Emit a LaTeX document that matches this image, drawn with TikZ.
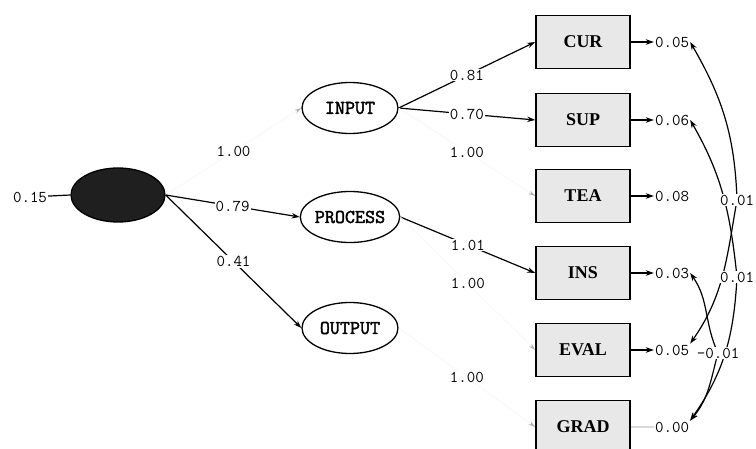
\documentclass[tikz,border=0pt]{standalone}
\usepackage{fontspec}
\newfontfamily\boxfont{Liberation Serif}
\newfontfamily\latfont[AutoFakeBold=2.2]{Latin Modern Mono}
\usetikzlibrary{shapes.geometric,arrows.meta}

\begin{document}
\begin{tikzpicture}[x=1pt,y=-1pt,
    lat/.style={ellipse, draw, line width=1.3pt, minimum width=96pt, minimum height=51pt,
        inner sep=0pt, font=\latfont\bfseries\fontsize{19.5}{19.5}\selectfont},
    obs/.style={rectangle, draw, line width=1.6pt, fill=black!9, minimum width=94pt,
        minimum height=53pt, font=\boxfont\bfseries\fontsize{18}{18}\selectfont},
    num/.style={fill=white, inner sep=1pt, font=\ttfamily\fontsize{16.5}{16.5}\selectfont},
    load/.style={line width=1.2pt, -{Stealth[length=8pt,width=5.5pt]}},
    fixload/.style={draw=black!3, line width=0.8pt, -{Stealth[length=7pt,width=4pt,color=black!30]}},
    cov/.style={line width=1.2pt, -{Stealth[length=8pt,width=5.5pt]}}]
    \useasboundingbox (0,0) rectangle (756,449);

    % latente Variablen
    \node[lat, fill=black!88, minimum width=94pt, minimum height=54pt] (eta) at (118,195) {};
    \node[lat] (input) at (350,108) {INPUT};
    \node[lat] (process) at (350,217) {PROCESS};
    \node[lat] (output) at (350,328) {OUTPUT};

    % Indikatoren
    \node[obs] (cur) at (583,42) {CUR};
    \node[obs] (sup) at (583,120) {SUP};
    \node[obs] (tea) at (583,196) {TEA};
    \node[obs] (ins) at (583,273) {INS};
    \node[obs] (eval) at (583,350) {EVAL};
    \node[obs] (grad) at (583,427) {GRAD};

    % Fehlervarianzen
    \node[num] (eeta) at (30,197) {0.15};
    \node[num] (ecur) at (672,42) {0.05};
    \node[num] (esup) at (672,120) {0.06};
    \node[num] (etea) at (672,196) {0.08};
    \node[num] (eins) at (672,273) {0.03};
    \node[num] (eeval) at (672,350) {0.05};
    \node[num] (egrad) at (672,427) {0.00};

    \draw[line width=1.2pt] (eeta) -- (eta.west);
    \draw[load] (cur) -- (ecur);
    \draw[load] (sup) -- (esup);
    \draw[load] (tea) -- (etea);
    \draw[load] (ins) -- (eins);
    \draw[load] (eval) -- (eeval);
    \draw[draw=black!15, line width=1pt] (grad) -- (egrad);

    % Ladungen 2. Ordnung
    \draw[fixload] (eta.east) -- node[num] {1.00} (input.west);
    \draw[load] (eta.east) -- node[num] {0.79} (process.west);
    \draw[load] (eta.east) -- node[num] {0.41} (output.west);

    % Ladungen 1. Ordnung
    \draw[load] (input.east) -- node[num] {0.81} (cur.west);
    \draw[load] (input.east) -- node[num] {0.70} (sup.west);
    \draw[fixload] (input.east) -- node[num] {1.00} (tea.west);
    \draw[load] (process.east) -- node[num] {1.01} (ins.west);
    \draw[fixload] (process.east) -- node[num] {1.00} (eval.west);
    \draw[fixload] (output.east) -- node[num] {1.00} (grad.west);

    % Fehlerkovarianzen
    \coordinate (cA) at (737,200);
    \coordinate (cB) at (737,277);
    \coordinate (cC) at (718,353);
    \draw[cov] (cA) to[out=92, in=-60] (ecur.east);
    \draw[cov] (cA) to[out=-100, in=55] (eeval.north east);
    \draw[cov] (cB) to[out=96, in=-60] (esup.east);
    \draw[cov] (cB) to[out=-93, in=55] (egrad.north east);
    \draw[cov] (cC) to[out=115, in=-55] (eins.east);
    \draw[cov] (cC) to[out=-105, in=50] (egrad.north east);
    \node[num] (covA) at (cA) {0.01};
    \node[num] (covB) at (cB) {0.01};
    \node[num] (covC) at (cC) {-0.01};
\end{tikzpicture}
\end{document}
